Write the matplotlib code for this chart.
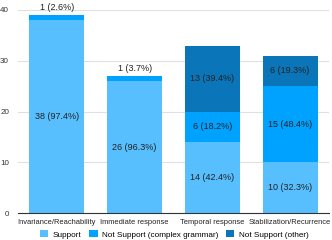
import matplotlib
matplotlib.use("Agg")
import matplotlib.pyplot as plt
import numpy as np

categories = ["Invariance/Reachability", "Immediate response", "Temporal response", "Stabilization/Recurrence"]
series_names = ["Support", "Not Support (complex grammar)", "Not Support (other)"]
support = [38, 26, 14, 10]
ns_complex = [1, 1, 6, 15]
ns_other = [0, 0, 13, 6]
support_pct = [97.4, 96.3, 42.4, 32.3]
ns_complex_pct = [2.6, 3.7, 18.2, 48.4]
ns_other_pct = [0, 0, 39.4, 19.3]
colors = ["#58BFFF", "#00A2FF", "#0A75B8"]
y_ticks = [0, 10, 20, 30, 40]

plt.rcParams['font.family'] = ['Liberation Sans', 'DejaVu Sans']
fig = plt.figure(figsize=(3.32, 2.40), dpi=100)
ax = fig.add_axes([18/332, 1-213/240, 311/332, 203/240])

x = np.arange(len(categories))
width = 0.705
data = [support, ns_complex, ns_other]
pcts = [support_pct, ns_complex_pct, ns_other_pct]
bottoms = np.zeros(len(categories))
totals = np.sum(data, axis=0)
fs_lab = 6.5
fs_tick = 5.4
fs_leg = 5.9
for si, vals in enumerate(data):
    vals = np.array(vals, dtype=float)
    ax.bar(x, vals, width, bottom=bottoms, color=colors[si], label=series_names[si], zorder=2)
    for i, v in enumerate(vals):
        if v <= 0:
            continue
        txt = f"{int(v)} ({pcts[si][i]:.1f}%)"
        if v / totals[i] < 0.1:
            ax.annotate(txt, (x[i], bottoms[i] + v), xytext=(0, 2.5), textcoords='offset points',
                        ha='center', va='bottom', fontsize=fs_lab, color='#222222')
        else:
            ax.text(x[i], bottoms[i] + v / 2, txt, ha='center', va='center', fontsize=fs_lab, color='#222222')
    bottoms += vals

ax.set_xlim(-0.5, len(categories) - 0.5)
ax.set_ylim(0, 40)
ax.set_yticks(y_ticks)
ax.set_yticklabels([str(t) for t in y_ticks], fontsize=5.8, color='#333333')
ax.set_xticks(x)
ax.set_xticklabels(categories, fontsize=fs_tick, color='#222222')
ax.tick_params(axis='x', length=0, pad=4)
ax.tick_params(axis='y', length=0, pad=6.5)
ax.grid(axis='y', color='#e0e0e0', linewidth=0.8, zorder=0)
for s in ['top', 'right', 'left']:
    ax.spines[s].set_visible(False)
ax.spines['bottom'].set_color('#333333')
ax.spines['bottom'].set_linewidth(0.8)
ax.set_axisbelow(True)

fig.legend(loc='lower center', bbox_to_anchor=(0.525, -0.025), ncol=3, frameon=False,
           fontsize=fs_leg, handlelength=1.0, handleheight=1.0, handletextpad=0.5, columnspacing=1.0)

fig.savefig("out.png", dpi=100)
